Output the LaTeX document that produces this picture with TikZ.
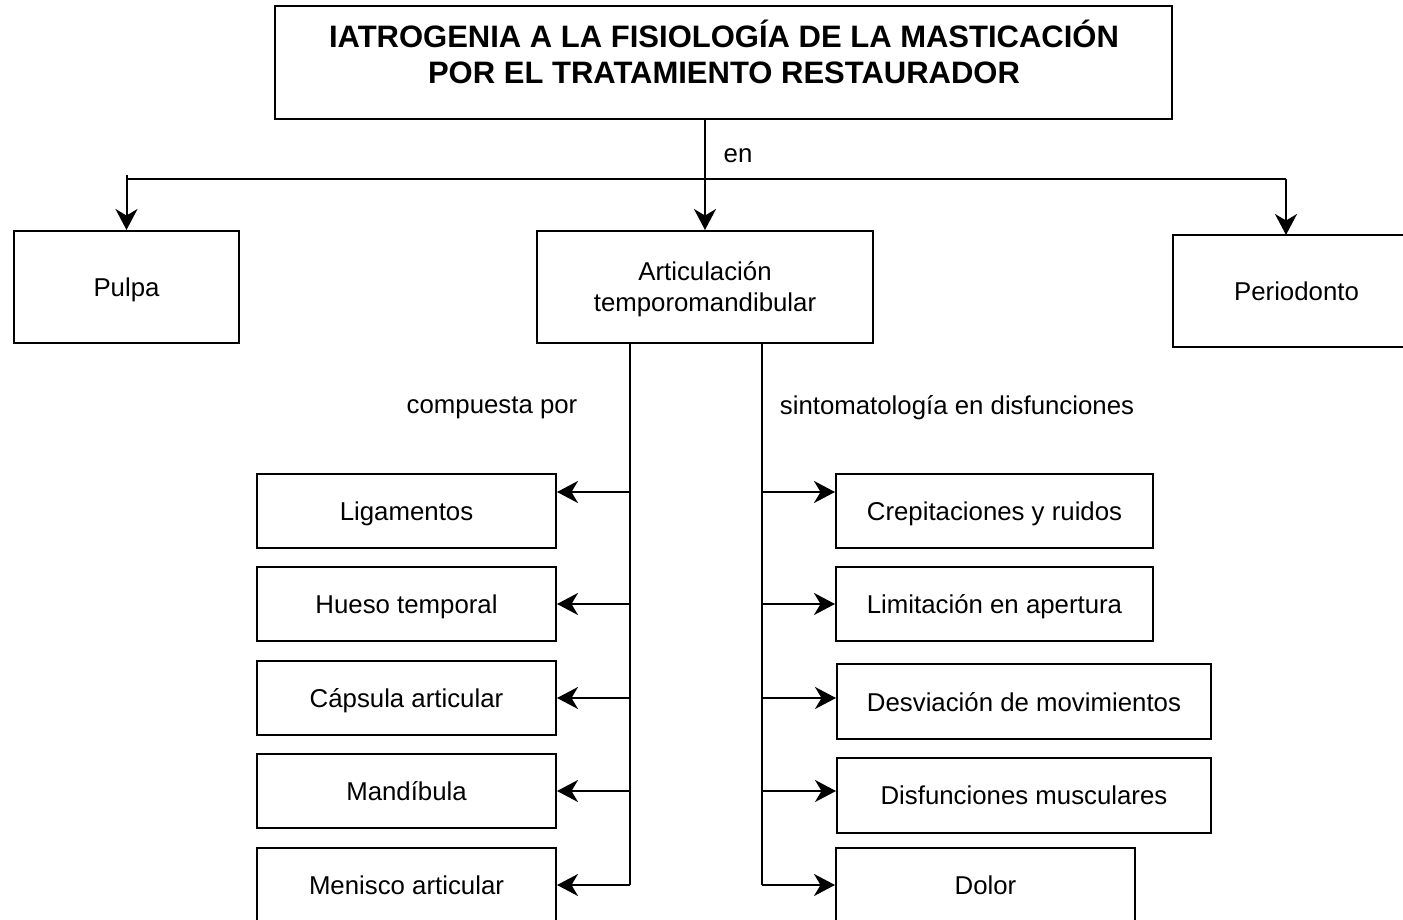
\documentclass[tikz,border=0pt]{standalone}
\usepackage{fontspec}
\setmainfont{Liberation Sans}
\usetikzlibrary{arrows.meta}
\tikzset{
  box/.style={draw=black, line width=2pt, fill=white, inner sep=0pt, align=center,
    text depth=0pt, font=\fontsize{25.8}{31}\selectfont},
  lbl/.style={inner sep=0pt, font=\fontsize{25.8}{31}\selectfont},
  ttl/.style={inner sep=0pt, align=center, font=\fontsize{31}{36}\selectfont\bfseries},
  conn/.style={draw=black, line width=2pt},
  arr/.style={conn, -{Stealth[length=21pt, width=22pt, inset=6.5pt]}},
}
\begin{document}
\begin{tikzpicture}[x=1pt, y=-1pt]
\useasboundingbox (0,0) rectangle (1403,920);
\begin{scope}
\clip (0,0) rectangle (1403,920);
% title
\node[box, minimum width=897pt, minimum height=113pt] (title) at (723.5,62.5) {};
\node[ttl] (titletext) at (724,52) {IATROGENIA A LA FISIOLOGÍA DE LA MASTICACIÓN\\POR EL TRATAMIENTO RESTAURADOR};
% second level
\node[box, minimum width=225pt, minimum height=112pt] (pulpa) at (126.5,287) {Pulpa};
\node[box, minimum width=336pt, minimum height=112pt] (atm) at (705,287) {Articulación\\temporomandibular};
\node[box, minimum width=247pt, minimum height=112pt] (perio) at (1296.5,291) {Periodonto};
% left column
\node[box, minimum width=299pt, minimum height=74pt] (lig) at (406.5,511) {Ligamentos};
\node[box, minimum width=299pt, minimum height=74pt] (hue) at (406.5,604) {Hueso temporal};
\node[box, minimum width=299pt, minimum height=74pt] (cap) at (406.5,698) {Cápsula articular};
\node[box, minimum width=299pt, minimum height=74pt] (man) at (406.5,791) {Mandíbula};
\node[box, minimum width=299pt, minimum height=74pt] (men) at (406.5,885) {Menisco articular};
% right column
\node[box, minimum width=317pt, minimum height=74pt] (cre) at (994.5,511) {Crepitaciones y ruidos};
\node[box, minimum width=317pt, minimum height=74pt] (lim) at (994.5,604) {Limitación en apertura};
\node[box, minimum width=374pt, minimum height=75pt] (des) at (1024,701.5) {Desviación de movimientos};
\node[box, minimum width=374pt, minimum height=75pt] (dis) at (1024,795.5) {Disfunciones musculares};
\node[box, minimum width=299pt, minimum height=74pt] (dol) at (985.5,885) {Dolor};
% labels
\node[lbl] (en) at (738,156) {en};
\node[lbl] (comp) at (492,408) {compuesta por};
\node[lbl] (sint) at (957,408) {sintomatología en disfunciones};
% connectors top
\coordinate (split) at (705,179);
\coordinate (pstub) at (126.5,175);
\coordinate (pcorner) at (126.5,179);
\coordinate (rdrop) at (1286,179);
\coordinate (rtip) at (1286,235);
\draw[arr] (title.south -| atm.north) -- (atm.north);
\draw[conn] (pcorner) -- (rdrop);
\draw[arr] (pstub) -- (pulpa.north);
\draw[arr] (rdrop) -- (rtip);
% left trunk
\coordinate (ltop) at (630,343);
\coordinate (l1) at (630,492);
\coordinate (l2) at (630,604);
\coordinate (l3) at (630,698);
\coordinate (l4) at (630,791);
\coordinate (l5) at (630,885);
\draw[conn] (ltop) -- (l5);
\draw[arr] (l1) -- (lig.east |- l1);
\draw[arr] (l2) -- (hue.east |- l2);
\draw[arr] (l3) -- (cap.east |- l3);
\draw[arr] (l4) -- (man.east |- l4);
\draw[arr] (l5) -- (men.east |- l5);
% right trunk
\coordinate (rtop) at (762,343);
\coordinate (r1) at (762,492);
\coordinate (r2) at (762,604);
\coordinate (r3) at (762,698);
\coordinate (r4) at (762,791);
\coordinate (r5) at (762,885);
\draw[conn] (rtop) -- (r5);
\draw[arr] (r1) -- (cre.west |- r1);
\draw[arr] (r2) -- (lim.west |- r2);
\draw[arr] (r3) -- (des.west |- r3);
\draw[arr] (r4) -- (dis.west |- r4);
\draw[arr] (r5) -- (dol.west |- r5);
\end{scope}
\end{tikzpicture}
\end{document}
